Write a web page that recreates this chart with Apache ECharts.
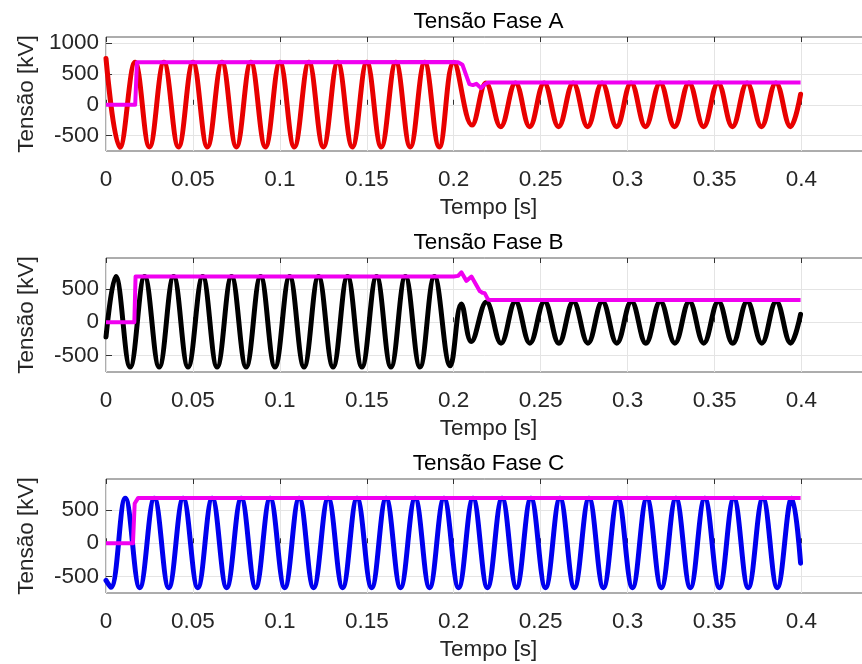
<!DOCTYPE html>
<html>
<head>
<meta charset="utf-8">
<script src="https://cdn.jsdelivr.net/npm/echarts@6/dist/echarts.min.js"></script>
<style>
  html, body { margin: 0; padding: 0; background: #fff; }
  #chart { width: 862px; height: 664px; }
</style>
</head>
<body>
<div id="chart"></div>
<script>
// Phase voltages [kV] vs time [s]: extrema of each waveform (time, value)
const faseA = [
  [0.0000, 750], [0.0080, -690], [0.0167, 690], [0.0250, -685], [0.0333, 690], [0.0417, -685],
  [0.0500, 690], [0.0583, -685], [0.0667, 690], [0.0750, -685], [0.0833, 690], [0.0917, -685],
  [0.1000, 690], [0.1083, -685], [0.1167, 690], [0.1250, -685], [0.1333, 690], [0.1417, -685],
  [0.1500, 690], [0.1583, -685], [0.1667, 690], [0.1750, -685], [0.1833, 690], [0.1917, -685],
  [0.2000, 690], [0.2105, -330], [0.2185, 355], [0.2270, -355], [0.2355, 355], [0.2437, -355],
  [0.2520, 355], [0.2603, -355], [0.2687, 355], [0.2770, -355], [0.2853, 355], [0.2937, -355],
  [0.3020, 355], [0.3103, -355], [0.3187, 355], [0.3270, -355], [0.3353, 355], [0.3437, -355],
  [0.3520, 355], [0.3603, -355], [0.3687, 355], [0.3770, -355], [0.3853, 355], [0.3937, -355],
  [0.3995, 170]
];
const faseB = [
  [0.0000, -220], [0.0056, 690], [0.0139, -675], [0.0222, 690], [0.0306, -675], [0.0389, 690],
  [0.0472, -675], [0.0556, 690], [0.0639, -675], [0.0722, 690], [0.0806, -675], [0.0889, 690],
  [0.0972, -675], [0.1056, 690], [0.1139, -675], [0.1222, 690], [0.1306, -675], [0.1389, 690],
  [0.1472, -675], [0.1556, 690], [0.1639, -675], [0.1722, 690], [0.1806, -675], [0.1889, 690],
  [0.1980, -655], [0.2044, 275], [0.2101, -290], [0.2188, 305], [0.2272, -315], [0.2355, 315],
  [0.2438, -315], [0.2522, 315], [0.2605, -315], [0.2688, 315], [0.2772, -315], [0.2855, 315],
  [0.2938, -315], [0.3022, 315], [0.3105, -315], [0.3188, 315], [0.3272, -315], [0.3355, 315],
  [0.3438, -315], [0.3522, 315], [0.3605, -315], [0.3688, 315], [0.3772, -315], [0.3855, 315],
  [0.3938, -315], [0.3995, 120]
];
const faseC = [
  [0.0000, -560], [0.0028, -665], [0.0111, 680], [0.0194, -670], [0.0278, 680], [0.0361, -670],
  [0.0444, 680], [0.0528, -670], [0.0611, 680], [0.0694, -670], [0.0778, 680], [0.0861, -670],
  [0.0944, 680], [0.1028, -670], [0.1111, 680], [0.1194, -670], [0.1278, 680], [0.1361, -670],
  [0.1444, 680], [0.1528, -670], [0.1611, 680], [0.1694, -670], [0.1778, 680], [0.1861, -670],
  [0.1944, 680], [0.2028, -670], [0.2111, 680], [0.2194, -670], [0.2278, 680], [0.2361, -670],
  [0.2444, 680], [0.2528, -670], [0.2611, 680], [0.2694, -670], [0.2778, 680], [0.2861, -670],
  [0.2944, 680], [0.3028, -670], [0.3111, 680], [0.3194, -670], [0.3278, 680], [0.3361, -670],
  [0.3444, 680], [0.3528, -670], [0.3611, 680], [0.3694, -670], [0.3778, 680], [0.3861, -670],
  [0.3944, 680], [0.3995, -300]
];

// Peak-value (envelope) measurements [kV]
const picoA = [
  [0.0000, 0], [0.0168, 0], [0.0178, 690], [0.1995, 695], [0.2025, 690], [0.2050, 650],
  [0.2090, 335], [0.2110, 320], [0.2130, 340], [0.2157, 270], [0.2180, 335], [0.2195, 360],
  [0.3995, 360]
];
const picoB = [
  [0.0000, 0], [0.0163, 0], [0.0170, 690], [0.2000, 690], [0.2025, 700], [0.2044, 755],
  [0.2073, 625], [0.2102, 690], [0.2150, 470], [0.2165, 445], [0.2178, 440], [0.2197, 345],
  [0.2215, 335], [0.3995, 335]
];
const picoC = [
  [0.0000, 0], [0.0155, 0], [0.0165, 600], [0.0185, 685], [0.3995, 685]
];

// Axis ticks and titles
const tempoTicks = [0, 0.05, 0.1, 0.15, 0.2, 0.25, 0.3, 0.35, 0.4];
const tensaoTicksA = [-500, 0, 500, 1000];
const tensaoTicksBC = [-500, 0, 500];
const titulos = ['Tensão Fase A', 'Tensão Fase B', 'Tensão Fase C'];
const coresFase = ['#e80000', '#000000', '#0000ee'];
const corPico = '#f000f0';

const FONT = '"Liberation Sans", Arial, Helvetica, sans-serif';
const TXT = '#262626';
const FS = 22.5;

const panels = [
  { top: 37, yMin: -750, yMax: 1100, ticks: tensaoTicksA, wave: faseA, peak: picoA },
  { top: 258, yMin: -750, yMax: 970, ticks: tensaoTicksBC, wave: faseB, peak: picoB },
  { top: 479, yMin: -750, yMax: 970, ticks: tensaoTicksBC, wave: faseC, peak: picoC }
];

const grid = [], xAxis = [], yAxis = [], series = [];
panels.forEach((p, i) => {
  grid.push({
    left: 106, width: 765, top: p.top, height: 114,
    show: true, borderColor: '#5a5a5a', borderWidth: 1, backgroundColor: '#fff',
    outerBoundsMode: 'none', containLabel: false
  });
  // bottom time axis
  xAxis.push({
    type: 'value', gridIndex: i, position: 'bottom', min: 0, max: 0.44,
    name: 'Tempo [s]', nameLocation: 'middle', nameGap: 45,
    nameTextStyle: { fontFamily: FONT, fontSize: FS, color: TXT },
    axisLine: { show: false },
    axisTick: { show: true, inside: true, length: 5, customValues: tempoTicks,
      lineStyle: { color: '#333' } },
    axisLabel: { customValues: tempoTicks, margin: 17, fontFamily: FONT, fontSize: FS, color: TXT,
      formatter: v => String(v) },
    splitLine: { show: true, lineStyle: { color: '#e4e4e4', width: 1 } }
  });
  // top axis carrying the panel title
  xAxis.push({
    type: 'value', gridIndex: i, position: 'top', min: 0, max: 0.44,
    name: titulos[i], nameLocation: 'middle', nameGap: 4,
    nameTextStyle: { fontFamily: FONT, fontSize: FS, color: '#000' },
    axisLine: { show: false },
    axisTick: { show: true, inside: true, length: 5, customValues: tempoTicks,
      lineStyle: { color: '#333' } },
    axisLabel: { show: false },
    splitLine: { show: false }
  });
  yAxis.push({
    type: 'value', gridIndex: i, min: p.yMin, max: p.yMax,
    name: 'Tensão [kV]', nameLocation: 'middle', nameGap: 68,
    nameTextStyle: { fontFamily: FONT, fontSize: FS, color: TXT },
    axisLine: { show: false },
    axisTick: { show: true, inside: true, length: 6, customValues: p.ticks,
      lineStyle: { color: '#333' } },
    axisLabel: { customValues: p.ticks, margin: 7, fontFamily: FONT, fontSize: FS, color: TXT,
      formatter: v => String(v) },
    splitLine: { show: true, lineStyle: { color: '#e4e4e4', width: 1 } }
  });
  series.push({
    type: 'line', xAxisIndex: 2 * i, yAxisIndex: i, data: p.wave,
    smooth: 0.4, showSymbol: false, symbol: 'none', animation: false,
    lineStyle: { color: coresFase[i], width: 5, cap: 'round', join: 'round' },
    z: 2
  });
  series.push({
    type: 'line', xAxisIndex: 2 * i, yAxisIndex: i, data: p.peak,
    showSymbol: false, symbol: 'none', animation: false,
    lineStyle: { color: corPico, width: 4, join: 'round' },
    z: 3
  });
});

const chart = echarts.init(document.getElementById('chart'), null, { renderer: 'canvas' });
chart.setOption({
  backgroundColor: '#ffffff',
  animation: false,
  grid, xAxis, yAxis, series
});
</script>
</body>
</html>
